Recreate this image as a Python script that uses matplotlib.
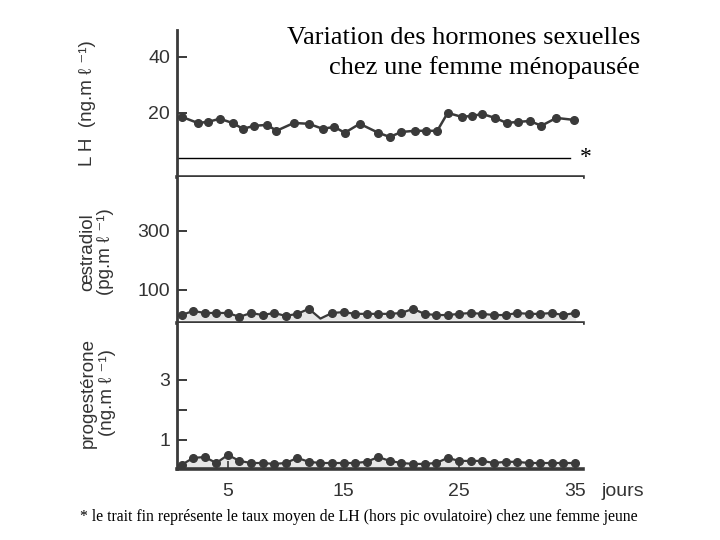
import matplotlib.pyplot as plt

# LH (ng/ml)
lh_days = [1, 2.4, 3.3, 4.3, 5.4, 6.3, 7.3, 8.4, 9.2, 10.7, 12, 13.2, 14.2, 15.1, 16.4, 18, 19, 20,
           21.2, 22.1, 23.1, 24, 25.2, 26.1, 27, 28.1, 29.1, 30.1, 31.1, 32.1, 33.4, 34.9]
lh_vals = [18.6, 16.4, 16.8, 17.9, 16.4, 14.3, 15.4, 15.7, 13.6, 16.4, 16.1, 14.3, 15.0, 12.9, 16.1, 12.9, 11.4, 13.2,
           13.6, 13.6, 13.6, 20.0, 18.6, 18.9, 19.6, 18.2, 16.4, 16.8, 17.1, 15.4, 18.2, 17.5]
lh_young = 3.9

days = list(range(1, 36))
oestradiol = [15, 29, 22, 22, 22, 9, 22, 15, 22, 12, 19, 36, 3, 22, 25, 19, 19, 19, 19, 22,
              36, 19, 15, 15, 19, 22, 19, 15, 15, 22, 19, 19, 22, 15, 22]
progesterone = [0.17, 0.40, 0.43, 0.23, 0.50, 0.30, 0.23, 0.23, 0.20, 0.23, 0.40, 0.27, 0.23, 0.23, 0.23, 0.23, 0.27, 0.43,
                0.30, 0.23, 0.20, 0.20, 0.23, 0.40, 0.30, 0.30, 0.30, 0.23, 0.27, 0.27, 0.23, 0.23, 0.23, 0.23, 0.23]

dark = "#3a3a3a"
sans = ["Liberation Sans", "DejaVu Sans"]
serif = ["Liberation Serif", "DejaVu Serif"]

fig = plt.figure(figsize=(7.2, 5.4), dpi=100)
left, width = 177 / 720, 406 / 720
ax1 = fig.add_axes([left, 1 - 177 / 540, width, 147 / 540])
ax2 = fig.add_axes([left, 1 - 323 / 540, width, 146 / 540])
ax3 = fig.add_axes([left, 1 - 469 / 540, width, 146 / 540])

for ax in (ax1, ax2, ax3):
    ax.set_xlim(0.6, 35.7)
    for s in ("top", "right"):
        ax.spines[s].set_visible(False)
    ax.spines["left"].set_color(dark)
    ax.spines["left"].set_linewidth(2)
    ax.spines["bottom"].set_color(dark)
    ax.spines["bottom"].set_linewidth(2.6)
    ax.tick_params(axis="y", direction="in", length=7, width=1.4, color=dark,
                   labelsize=14, labelcolor="#333333", pad=5)
    for lab in ax.get_yticklabels():
        lab.set_family(sans)

# LH panel
ax1.plot(lh_days, lh_vals, "-o", color=dark, lw=1.8, ms=5.5)
ax1.plot([0.6, 34.6], [lh_young, lh_young], color="black", lw=1)
ax1.text(35.9, lh_young, "*", fontsize=17, family=serif, va="center", ha="center", clip_on=False)
ax1.set_ylim(-2.9, 49.6)
ax1.set_yticks([20, 40])
ax1.set_xticks([])

# oestradiol panel
ax2.fill_between(days, oestradiol, 0, color="#e6e6e6")
ax2.plot(days, oestradiol, "-o", color=dark, lw=1.6, ms=5.5,
         markevery=[i for i in range(35) if i != 12])
ax2.set_ylim(-12, 483)
ax2.set_yticks([100, 300])
ax2.set_xticks([])

# progesterone panel
ax3.fill_between(days, progesterone, 0, color="#e6e6e6")
ax3.plot(days, progesterone, "-o", color=dark, lw=1.6, ms=5.5)
ax3.set_ylim(0.03, 4.9)
ax3.set_yticks([1, 2, 3])
ax3.set_yticklabels(["1", "", "3"], family=sans)
ax3.set_xticks([5, 15, 25, 35])
ax3.tick_params(axis="x", direction="in", length=6, width=1.2, color=dark,
                labelsize=14, labelcolor="#333333", pad=10)
for lab in ax3.get_xticklabels():
    lab.set_family(sans)

# y labels
lab_kw = dict(rotation=90, ha="center", va="center", fontsize=13.5, family=sans, color="#333333")
fig.text(88 / 720, 1 - 103 / 540, "L H  (ng.m ℓ ⁻¹)", **lab_kw)
fig.text(88 / 720, 1 - 252 / 540, "œstradiol", **lab_kw)
fig.text(106 / 720, 1 - 252 / 540, "(pg.m ℓ ⁻¹)", **lab_kw)
fig.text(88 / 720, 1 - 393 / 540, "progestérone", **lab_kw)
fig.text(107 / 720, 1 - 393 / 540, "(ng.m ℓ ⁻¹)", **lab_kw)
fig.text(623 / 720, 1 - 491 / 540, "jours", ha="center", va="center",
         fontsize=14, family=sans, color="#333333")

# title and footnote
fig.text(640 / 720, 1 - 38 / 540, "Variation des hormones sexuelles", ha="right", va="center",
         fontsize=19, family=serif)
fig.text(640 / 720, 1 - 68 / 540, "chez une femme ménopausée", ha="right", va="center",
         fontsize=19, family=serif)
fig.text(80 / 720, 1 - 517 / 540,
         "* le trait fin représente le taux moyen de LH (hors pic ovulatoire) chez une femme jeune",
         ha="left", va="center", fontsize=11.3, family=serif)

fig.savefig("out.png", dpi=100)
